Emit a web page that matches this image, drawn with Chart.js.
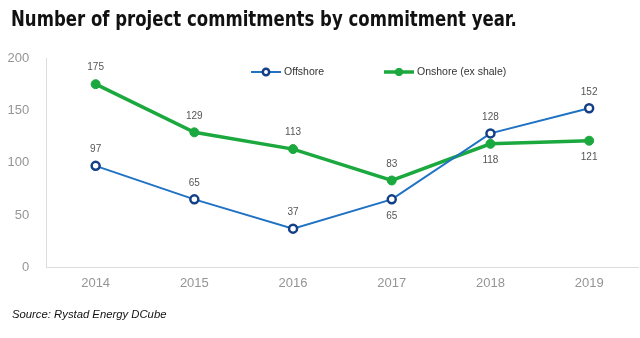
<!DOCTYPE html>
<html>
<head>
<meta charset="utf-8">
<script src="https://cdn.jsdelivr.net/npm/chart.js@4/dist/chart.umd.min.js"></script>
<style>
  html, body { margin: 0; padding: 0; background: #fff; }
  #wrap { position: relative; width: 640px; height: 338px; overflow: hidden; }
  #title {
    position: absolute; left: 11px; top: 6px; white-space: nowrap;
    font-family: 'DejaVu Sans Condensed', 'DejaVu Sans', sans-serif;
    font-stretch: condensed; font-weight: bold; font-size: 22px; color: #111;
    transform-origin: 0 0;
  }
  #source {
    position: absolute; left: 12px; top: 308px;
    font-family: 'Liberation Sans', Arial, sans-serif;
    font-style: italic; font-size: 11.3px; color: #111;
  }
  #chart { position: absolute; left: 0; top: 0; }
</style>
</head>
<body>
<div id="wrap">
  <canvas id="chart" width="645" height="338"></canvas>
  <div id="title">Number of project commitments by commitment year.</div>
  <div id="source">Source: Rystad Energy DCube</div>
</div>
<script>
const BLUE = '#1f72c4'
const NAVY = '#143f86'
const GREEN = '#1ba83f'
const AXIS = '#dcdcdc'
const TICK = '#959595'
const LABEL = '#555555'

const years = ['2014', '2015', '2016', '2017', '2018', '2019']
const offshore = [97, 65, 37, 65, 128, 152]
const onshore = [175, 129, 113, 83, 118, 121]
const yTicks = [0, 50, 100, 150, 200]

// squeeze the heading into its narrow width
const title = document.getElementById('title')
title.style.transform = 'scaleX(' + (506 / title.offsetWidth) + ')'

// value labels, above or below each point
const valueLabels = {
  id: 'valueLabels',
  afterDatasetsDraw(chart, args, opts) {
    const ctx = chart.ctx
    ctx.save()
    ctx.font = '10px "Liberation Sans", Arial, sans-serif'
    ctx.fillStyle = LABEL
    ctx.textAlign = 'center'
    ctx.textBaseline = 'middle'
    chart.data.datasets.forEach((ds, i) => {
      const meta = chart.getDatasetMeta(i)
      const sides = opts.sides[i]
      meta.data.forEach((pt, j) => {
        const dy = sides[j] === 'below' ? opts.offset : -opts.offset
        ctx.fillText(String(ds.data[j]), pt.x, pt.y + dy)
      })
    })
    ctx.restore()
  },
}

// legend drawn inside the plot: short line with marker, then the name
const lineLegend = {
  id: 'lineLegend',
  afterDraw(chart, args, opts) {
    const ctx = chart.ctx
    const y = opts.y
    ctx.save()
    chart.data.datasets.forEach((ds, i) => {
      const x = opts.x[i]
      ctx.strokeStyle = ds.borderColor
      ctx.lineWidth = ds.borderWidth
      ctx.beginPath()
      ctx.moveTo(x, y)
      ctx.lineTo(x + opts.lineLen, y)
      ctx.stroke()
      ctx.beginPath()
      ctx.arc(x + opts.lineLen / 2, y, ds.pointRadius - 0.8, 0, Math.PI * 2)
      ctx.fillStyle = ds.pointBackgroundColor
      ctx.fill()
      ctx.lineWidth = ds.pointBorderWidth
      ctx.strokeStyle = ds.pointBorderColor
      ctx.stroke()
      ctx.font = '10.5px "Liberation Sans", Arial, sans-serif'
      ctx.fillStyle = '#333'
      ctx.textBaseline = 'middle'
      ctx.fillText(ds.label, x + opts.lineLen + 3, y + 0.5)
    })
    ctx.restore()
  },
}

new Chart(document.getElementById('chart'), {
  type: 'line',
  data: {
    labels: years,
    datasets: [
      {
        label: 'Offshore',
        data: offshore,
        borderColor: BLUE,
        borderWidth: 2,
        pointRadius: 4,
        pointBackgroundColor: '#fff',
        pointBorderColor: NAVY,
        pointBorderWidth: 2.5,
        tension: 0,
      },
      {
        label: 'Onshore (ex shale)',
        data: onshore,
        borderColor: GREEN,
        borderWidth: 3.5,
        pointRadius: 4.5,
        pointBackgroundColor: GREEN,
        pointBorderColor: GREEN,
        pointBorderWidth: 1,
        tension: 0,
      },
    ],
  },
  options: {
    responsive: false,
    animation: false,
    layout: { padding: { top: 58, bottom: 47, left: -1.4, right: 0 } },
    scales: {
      x: {
        offset: true,
        grid: { display: false },
        border: { color: AXIS, width: 1 },
        ticks: { color: TICK, font: { family: '"Liberation Sans", Arial, sans-serif', size: 13 }, padding: 0 },
      },
      y: {
        min: 0,
        max: 200,
        afterBuildTicks: (axis) => { axis.ticks = yTicks.map((v) => ({ value: v })) },
        grid: { display: false },
        border: { color: AXIS, width: 1 },
        ticks: { color: TICK, font: { family: '"Liberation Sans", Arial, sans-serif', size: 13 }, padding: 9 },
      },
    },
    plugins: {
      legend: { display: false },
      tooltip: { enabled: false },
      valueLabels: {
        offset: 16.5,
        sides: [
          ['above', 'above', 'above', 'below', 'above', 'above'],
          ['above', 'above', 'above', 'above', 'below', 'below'],
        ],
      },
      lineLegend: { x: [251, 384], y: 72, lineLen: 30 },
    },
  },
  plugins: [valueLabels, lineLegend],
})
</script>
</body>
</html>
